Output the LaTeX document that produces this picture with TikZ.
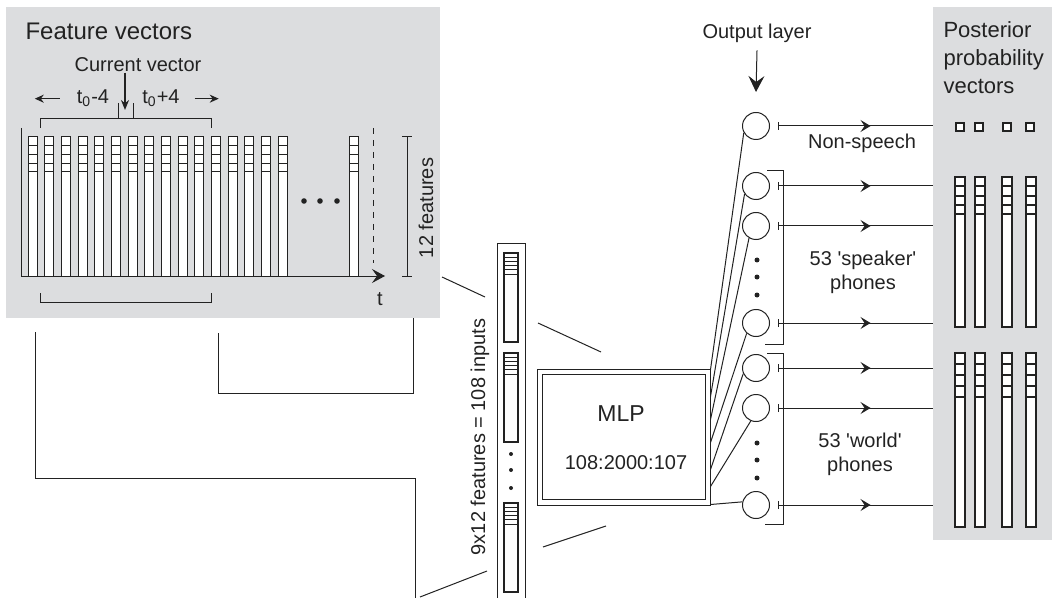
\documentclass[tikz,border=0pt]{standalone}
\usepackage{fontspec}
\setmainfont{Liberation Sans}
\usetikzlibrary{arrows.meta,positioning,fit,calc,decorations.markings}
\definecolor{ink}{HTML}{222222}
\definecolor{panel}{HTML}{DCDDDF}

\begin{document}
\begin{tikzpicture}[x=0.5pt, y=-0.5pt, font=\fontsize{10}{12}\selectfont, line width=0.5pt, color=ink,
  bg/.style={fill=panel, inner sep=0pt},
  fbar/.style={draw=ink, fill=white, line width=0.5pt},
  pbar/.style={draw=ink, fill=white, line width=1pt},
  neuron/.style={circle, draw=ink, fill=white, minimum size=13.5pt, inner sep=0pt},
  blob/.style={circle, fill=ink, inner sep=0pt, minimum size=2.5pt},
  feed/.style={{Bar[width=4pt]}-, postaction={decorate},
    decoration={markings, mark=at position 0.6 with {\arrow{Stealth[length=5pt, width=6pt, inset=2pt]}}}}]
\useasboundingbox (0,0) rectangle (1052,598);

% feature vectors
\node[bg, fit={(6,7) (440,318)}] (fv) {};
\node[font=\fontsize{12}{14}\selectfont, anchor=base west, inner sep=0pt] (fvtitle) at (25,40) {Feature vectors};
\node[anchor=base, inner sep=0pt] (cur) at (138,72) {Current vector};
\coordinate (curtip) at (125,110);
\draw[line width=0.7pt, -{Stealth[length=5pt, width=4pt]}] (cur.south -| curtip) -- (curtip);
\node[anchor=base] (tminus) at (93,104) {t\textsubscript{0}-4};
\node[anchor=base] (tplus) at (161,104) {t\textsubscript{0}+4};
\draw[line width=0.8pt, -{Stealth[length=4.5pt, width=4pt]}] ([xshift=-5pt]tminus.west) -- ++(-25,0);
\draw[line width=0.8pt, -{Stealth[length=4.5pt, width=4pt]}] ([xshift=4pt]tplus.east) -- ++(24,0);
\draw (40,128) |- (211,119) -- (211,128);
\draw (118,103) -- (118,119) (133,119) -- (133,103);
\draw (40,293) |- (211,302) -- (211,293);
\foreach \i in {0,...,15}{
  \pgfmathsetmacro\bx{28+16.67*\i}
  \draw[fbar] (\bx,137) rectangle ++(9,139);
  \foreach \k in {1,...,4} \draw[fbar] (\bx,137+8.75*\k) -- ++(9,0);
}
\draw[fbar] (349,137) rectangle ++(9,139);
\foreach \k in {1,...,4} \draw[fbar] (349,137+8.75*\k) -- ++(9,0);
\foreach \x in {304,320,337} \node[blob, minimum size=2.8pt] (fd\x) at (\x,201) {};
\draw[-{Stealth[length=6.5pt, width=7pt, inset=2.5pt]}] (21,128) |- (385,276);
\draw[dashed] (373,128) -- (373,263);
\node (tlbl) at (380,299) {t};
\draw (402,137) -- (412,137) (407,137) -- (407,276) (402,276) -- (412,276);
\node[rotate=90] (nfeat) at (426,208) {12 features};

% links below the panel
\draw (218,333) |- (413,393) -- (413,318);
\draw (35,332) |- (415,478) -- (415,605);
\draw (442,277) -- (485,297);
\draw (420,597) -- (487,571);
\draw (538,323) -- (601,352);
\draw (543,547) -- (606,526);

% input vector
\draw (497,605) |- (525,244) -- (525,605);
\foreach \y in {253,353,503}{
  \draw[fbar, line width=0.8pt] (504,\y) rectangle ++(14,89);
  \foreach \k in {1,...,5} \draw[fbar, line width=0.4pt] (504,\y+4.2*\k) -- ++(14,0);
}
\foreach \y in {454,470,488} \node[blob, minimum size=2pt] (id\y) at (511,\y) {};
\node[rotate=90] (nin) at (480,437) {9x12 features = 108 inputs};

% MLP
\node[draw=ink, fit={(537,369) (710,505)}, inner sep=0pt] (mlp) {};
\node[draw=ink, fit={(542,374) (705,499)}, inner sep=0pt] (mlpin) {};
\node[font=\fontsize{11.5}{14}\selectfont] (mlplbl) at (621,414) {MLP};
\node (mlpsize) at (626,463) {108:2000:107};

% output layer
\node[bg, fit={(933,7) (1052,540)}] (post) {};
\foreach \n/\y in {1/126,2/186,3/226,4/323,5/368,6/408,7/505}
  \node[neuron] (o\n) at (756,\y) {};
\foreach \n/\a/\d in {1/209/1, 2/215/28, 3/240/51, 4/228/74, 5/204/101, 6/248/118, 7/167/136}
  \draw ($(mlp.north east)+(0,\d)$) -- (o\n.\a);
\foreach \n in {1,...,7}
  \draw[feed] ($(o\n.east)+(7.5,0)$) -- (o\n -| post.west);
\draw (767,171) -| (783,344) -- (765,344);
\draw (767,353) -| (783,524) -- (765,524);
\foreach \y in {260,277,295,443,460,478} \node[blob] (od\y) at (757,\y) {};
\node[anchor=base] (outlbl) at (757,39) {Output layer};
\draw[-{Stealth[length=8pt, width=8pt, inset=3pt]}] (outlbl.south) -- ([yshift=10pt]o1.north);
\node (nonsp) at (862,143) {Non-speech};
\node[align=center] (spk) at (863,272) {53 \textquotesingle speaker\textquotesingle\\phones};
\node[align=center] (wld) at (860,454) {53 \textquotesingle world\textquotesingle\\phones};

% posterior vectors
\node[anchor=north west, align=left, inner sep=0pt, font=\fontsize{11}{14}\selectfont] (posttitle) at (943,21) {Posterior\\probability\\vectors};
\foreach \x in {956,975,1003,1026} \draw[pbar] (\x,123) rectangle ++(8,8);
\foreach \x in {955,975,1002,1026}{
  \draw[pbar] (\x,177) rectangle (\x+10,327);
  \foreach \k in {1,...,4} \draw[pbar] (\x,177+9.3*\k) -- ++(10,0);
  \draw[pbar] (\x,353) rectangle (\x+10,527);
  \foreach \k in {1,...,4} \draw[pbar] (\x,353+11*\k) -- ++(10,0);
}
\end{tikzpicture}
\end{document}
